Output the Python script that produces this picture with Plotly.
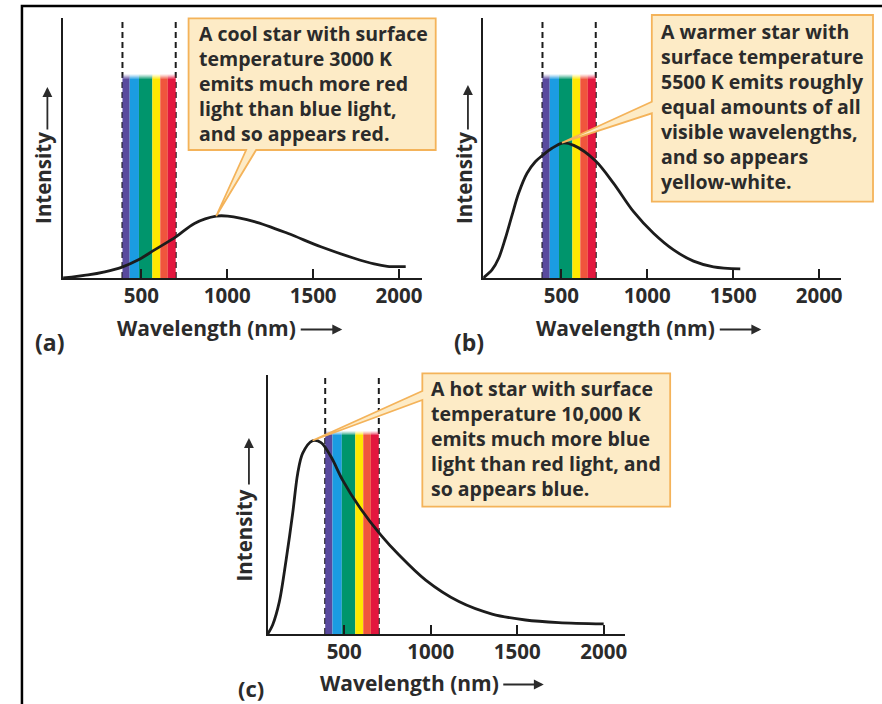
import plotly.graph_objects as go

W, H = 882, 704

# ---------------- data ----------------
cool_nm = [45, 190, 287, 384, 480, 577, 703, 809, 936, 1003, 1158, 1351, 1545, 1739, 1855, 1932, 2039]
cool_int = [0, 1.2, 2.4, 4.1, 6.9, 10.8, 15.9, 21.0, 23.8, 23.8, 21.7, 17.2, 12.0, 7.6, 5.4, 4.5, 4.4]

warm_nm = [45, 96, 135, 174, 213, 251, 300, 348, 387, 445, 505, 572, 698, 804, 920, 1036, 1153, 1269, 1385, 1541]
warm_int = [0, 3.1, 7.6, 15.3, 24.2, 32.6, 40.3, 44.7, 47.0, 49.9, 51.9, 51.0, 45.1, 36.4, 25.5, 17.2, 10.8, 6.5, 4.3, 3.5]

hot_nm = [58, 86, 125, 164, 202, 231, 260, 317, 366, 423, 490, 586, 712, 817, 971, 1163, 1355, 1548, 1740, 2000]
hot_int = [0, 3.5, 12.5, 28.6, 46.6, 62.0, 69.8, 74.6, 73.9, 68.5, 59.5, 49.2, 38.2, 30.5, 20.8, 12.5, 7.7, 5.4, 4.4, 3.9]

tick_vals = [500, 1000, 1500, 2000]
tick_text = ["500", "1000", "1500", "2000"]

visible_limits = [390, 700]
band_edges = [390, 432, 486, 564, 610, 654, 700]
band_colors = ["#594a9e", "#1b9ce2", "#00956c", "#ffe800", "#f0553d", "#e3173e"]
band_top = 76.8

texts = {
    "a": ["A cool star with surface", "temperature 3000 K", "emits much more red",
          "light than blue light,", "and so appears red."],
    "b": ["A warmer star with", "surface temperature", "5500 K emits roughly",
          "equal amounts of all", "visible wavelengths,", "and so appears", "yellow-white."],
    "c": ["A hot star with surface", "temperature 10,000 K", "emits much more blue",
          "light than red light, and", "so appears blue."],
}

# ---------------- helpers ----------------
def px(x):
    return x / W

def py(y):
    return 1 - y / H

FONT = "Open Sans"
TXT = "#2b2b2b"
LINE = "#1c1c1c"

panels = [
    dict(n="a", ax="", nm=cool_nm, I=cool_int, xs=(63, 423), ys=(278, 18), xr=(43, 2134)),
    dict(n="b", ax="2", nm=warm_nm, I=warm_int, xs=(484.3, 843.3), ys=(278, 18), xr=(45, 2129.5)),
    dict(n="c", ax="3", nm=hot_nm, I=hot_int, xs=(268.3, 626.7), ys=(634, 375), xr=(57.5, 2125)),
]

fig = go.Figure()
shapes = []
annotations = []
layout = dict(
    width=W, height=H, margin=dict(l=0, r=0, t=0, b=0),
    paper_bgcolor="white", plot_bgcolor="white", showlegend=False,
)

for p in panels:
    xa = "x" + p["ax"]
    ya = "y" + p["ax"]
    fig.add_trace(go.Scatter(
        x=p["nm"], y=p["I"], mode="lines", xaxis=xa, yaxis=ya,
        line=dict(color=LINE, width=2.8, shape="spline", smoothing=0.9),
        hoverinfo="skip",
    ))
    layout["xaxis" + p["ax"]] = dict(
        domain=[px(p["xs"][0]), px(p["xs"][1])], range=list(p["xr"]),
        anchor=ya, showline=True, linecolor=LINE, linewidth=2,
        ticks="inside", ticklen=9, tickwidth=2, tickcolor=LINE,
        tickvals=tick_vals, ticktext=tick_text, ticklabelstandoff=-2,
        tickfont=dict(family=FONT, size=20.5, color=TXT, weight="bold"),
        showgrid=False, zeroline=False, fixedrange=True,
    )
    layout["yaxis" + p["ax"]] = dict(
        domain=[py(p["ys"][0]), py(p["ys"][1])], range=[0, 100],
        anchor=xa, showline=True, linecolor=LINE, linewidth=2,
        showticklabels=False, ticks="", showgrid=False, zeroline=False, fixedrange=True,
    )
    for i, c in enumerate(band_colors):
        shapes.append(dict(type="rect", xref=xa, yref=ya, layer="below",
                           x0=band_edges[i], x1=band_edges[i + 1], y0=0, y1=band_top,
                           fillcolor=c, line=dict(width=0)))
        for k, op in enumerate([0.75, 0.5, 0.3, 0.12]):
            shapes.append(dict(type="rect", xref=xa, yref=ya, layer="below",
                               x0=band_edges[i], x1=band_edges[i + 1],
                               y0=band_top + 0.4 * k, y1=band_top + 0.4 * (k + 1),
                               fillcolor=c, opacity=op, line=dict(width=0)))
    for v in visible_limits:
        shapes.append(dict(type="line", xref=xa, yref=ya + " domain", layer="below",
                           x0=v, x1=v, y0=0, y1=1,
                           line=dict(color=LINE, width=2, dash="6px,4px")))

# ---------------- callout boxes ----------------
def path(pts):
    return "M " + " L ".join(f"{px(x):.5f},{py(y):.5f}" for x, y in pts) + " Z"

callouts = {
    "a": [(189, 18.3), (436.7, 18.3), (436.7, 150), (256.7, 150), (216.7, 216),
          (246.7, 150), (189, 150)],
    "b": [(653.3, 15), (875, 15), (875, 201.7), (653.3, 201.7), (653.3, 113.3),
          (563.3, 142.7), (653.3, 101.7)],
    "c": [(423.3, 373.3), (671.7, 373.3), (671.7, 506.7), (423.3, 506.7), (423.3, 400),
          (313.3, 440.5), (423.3, 391)],
}
for k, pts in callouts.items():
    shapes.append(dict(type="path", xref="paper", yref="paper", layer="above",
                       path=path(pts), fillcolor="#fdebc6",
                       line=dict(color="#f4b35a", width=1.8)))

text_pos = {"a": (197.5, 33.3), "b": (660, 31.7), "c": (430, 388.3)}
for k, lines in texts.items():
    x0, y0 = text_pos[k]
    for i, t in enumerate(lines):
        annotations.append(dict(xref="paper", yref="paper", x=px(x0), y=py(y0 + 25 * i),
                                xanchor="left", yanchor="middle", showarrow=False, text=t,
                                font=dict(family=FONT, size=19.5, color=TXT, weight="bold")))

# ---------------- axis titles, arrows, panel labels ----------------
def label(x, y, t, size=21, angle=0):
    annotations.append(dict(xref="paper", yref="paper", x=px(x), y=py(y), text=t,
                            showarrow=False, textangle=angle, xanchor="center", yanchor="middle",
                            borderpad=0,
                            font=dict(family=FONT, size=size, color=TXT, weight="bold")))

def arrow(x_tail, y_tail, x_head, y_head):
    annotations.append(dict(xref="paper", yref="paper", x=px(x_head), y=py(y_head),
                            ax=x_tail - x_head, ay=y_tail - y_head, axref="pixel", ayref="pixel",
                            text="", showarrow=True, arrowhead=2, arrowsize=1.1,
                            arrowwidth=1.8, arrowcolor=TXT))

label(206.5, 328, "Wavelength (nm)")
arrow(300, 329.5, 343, 329.5)
label(626.7, 328, "Wavelength (nm)")
arrow(720, 329.5, 763, 329.5)
label(410, 683, "Wavelength (nm)")
arrow(503, 684.5, 545, 684.5)

label(43, 178, "Intensity", size=20.5, angle=-90)
arrow(47.5, 131, 47.5, 87)
label(465, 178, "Intensity", size=20.5, angle=-90)
arrow(469, 131, 469, 85)
label(245, 535, "Intensity", size=20.5, angle=-90)
arrow(249.5, 486, 249.5, 438)

label(50, 342, "(a)", size=23)
label(470, 342, "(b)", size=23)
label(252, 688, "(c)", size=22)

shapes.append(dict(type="path", xref="paper", yref="paper", layer="above",
                   path=f"M {px(22)},{py(706)} L {px(22)},{py(6)} L {px(884)},{py(6)}",
                   line=dict(color="black", width=2.5)))

layout["shapes"] = shapes
layout["annotations"] = annotations
fig.update_layout(**layout)
fig.write_html("out.html", config={"displayModeBar": False},
               post_script="document.body.style.margin='0px';document.body.style.overflow='hidden';")
